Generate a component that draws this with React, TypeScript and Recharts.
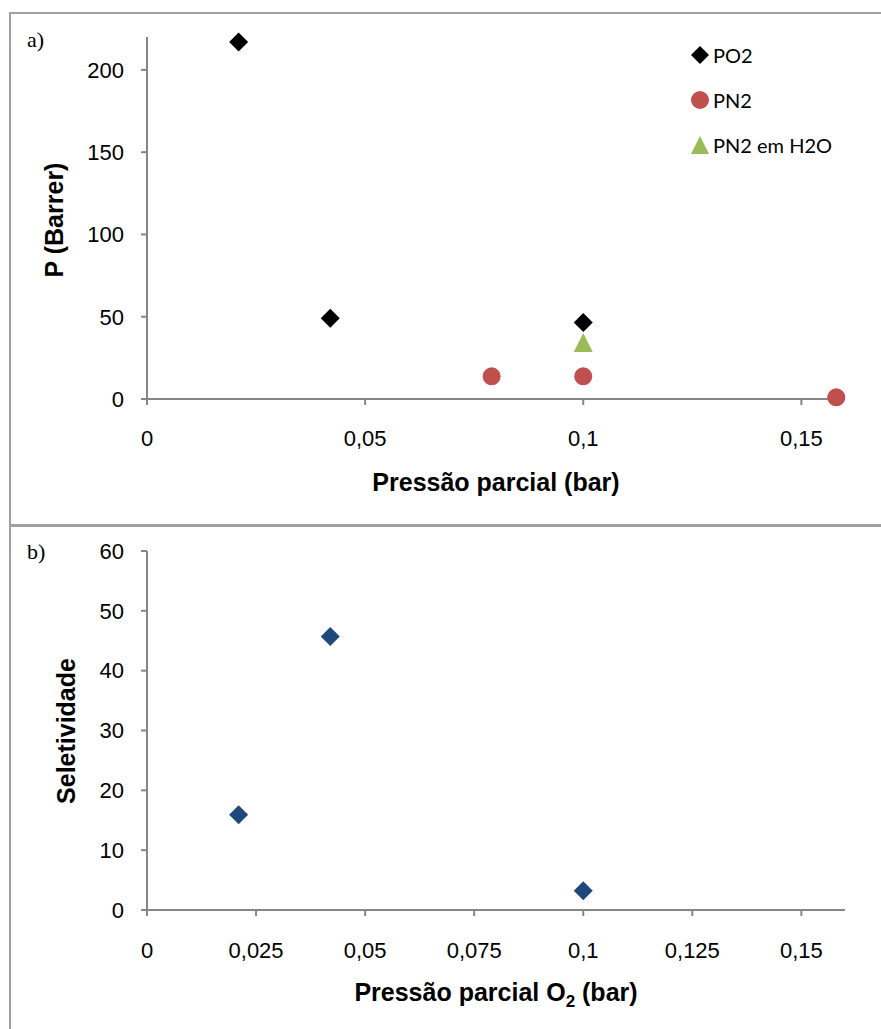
import React from 'react';
import { ScatterChart, Scatter, XAxis, YAxis, Legend, Label } from 'recharts';

// a) permeability vs partial pressure
const po2Data = [
  { x: 0.021, y: 217 },
  { x: 0.042, y: 49 },
  { x: 0.1, y: 46.5 },
];
const pn2Data = [
  { x: 0.079, y: 13.8 },
  { x: 0.1, y: 13.8 },
  { x: 0.158, y: 1 },
];
const pn2H2oData = [{ x: 0.1, y: 34 }];

const topXTicks = [0, 0.05, 0.1, 0.15];
const topYTicks = [0, 50, 100, 150, 200];

// b) selectivity vs O2 partial pressure
const selectivityData = [
  { x: 0.021, y: 15.9 },
  { x: 0.042, y: 45.7 },
  { x: 0.1, y: 3.2 },
];
const bottomXTicks = [0, 0.025, 0.05, 0.075, 0.1, 0.125, 0.15];
const bottomYTicks = [0, 10, 20, 30, 40, 50, 60];

const AXIS = '#868686';
const SANS = 'Liberation Sans, Arial, sans-serif';
const tickStyle = { fontFamily: SANS, fontSize: 22, fill: '#000' };
const titleStyle = { fontFamily: SANS, fontSize: 25, fontWeight: 'bold', fill: '#000' };
const fmt = (v: number) => String(v).replace('.', ',');

const diamond = (color: string) => (props: any) => {
  const { cx, cy } = props;
  const r = 9.5;
  return <polygon points={`${cx},${cy - r} ${cx + r},${cy} ${cx},${cy + r} ${cx - r},${cy}`} fill={color} />;
};
const circle = (color: string) => (props: any) => <circle cx={props.cx} cy={props.cy} r={9} fill={color} />;
const triangle = (color: string) => (props: any) => {
  const { cx, cy } = props;
  return <polygon points={`${cx},${cy - 10} ${cx + 9.5},${cy + 9} ${cx - 9.5},${cy + 9}`} fill={color} />;
};

const legendItems = [
  { name: 'PO2', color: '#000', kind: 'diamond' },
  { name: 'PN2', color: '#C0504D', kind: 'circle' },
  { name: 'PN2 em H2O', color: '#9BBB59', kind: 'triangle' },
];

const LegendIcon = ({ kind, color }: { kind: string; color: string }) => (
  <svg width={20} height={20} style={{ display: 'block' }}>
    {kind === 'diamond' && <polygon points="10,1 19,10 10,19 1,10" fill={color} />}
    {kind === 'circle' && <circle cx={10} cy={10} r={9} fill={color} />}
    {kind === 'triangle' && <polygon points="10,1 19,19 1,19" fill={color} />}
  </svg>
);

const TopLegend = () => (
  <div style={{ fontFamily: 'Lato, "Open Sans", sans-serif', fontSize: 20, color: '#000' }}>
    {legendItems.map((it) => (
      <div key={it.name} style={{ display: 'flex', alignItems: 'center', height: 45 }}>
        <LegendIcon kind={it.kind} color={it.color} />
        <span style={{ marginLeft: 3, whiteSpace: 'nowrap' }}>{it.name}</span>
      </div>
    ))}
  </div>
);

const yTitle = (text: string, x: number, y: number) => () => (
  <text x={x} y={y} transform={`rotate(-90, ${x}, ${y})`} textAnchor="middle" style={titleStyle}>
    {text}
  </text>
);

const panelText: React.CSSProperties = {
  position: 'absolute', left: 27, fontFamily: '"Liberation Serif", "Times New Roman", serif',
  fontSize: 22, lineHeight: '22px', color: '#000',
};

export default function App() {
  return (
    <div style={{ position: 'absolute', left: 0, top: 0, width: 881, height: 1029, overflow: 'hidden', background: '#fff' }}>
      <div style={{ position: 'absolute', left: 9, top: 12, width: 900, height: 511, border: '2px solid #A0A0A0' }} />
      <div style={{ position: 'absolute', left: 9, top: 524, width: 900, height: 600, border: '2px solid #A0A0A0' }} />
      <div style={{ ...panelText, top: 29 }}>a)</div>
      <div style={{ ...panelText, top: 541 }}>b)</div>

      <div style={{ position: 'absolute', left: 0, top: 0 }}>
        <ScatterChart width={881} height={520} margin={{ top: 37, right: 36, bottom: 61, left: 87 }}>
          <XAxis type="number" dataKey="x" domain={[0, 0.16]} ticks={topXTicks} tickFormatter={fmt}
            axisLine={{ stroke: AXIS, strokeWidth: 2 }} tickLine={{ stroke: AXIS, strokeWidth: 2 }}
            tickSize={6} tickMargin={25} tick={tickStyle} height={60}>
            <Label content={() => (
              <text x={496} y={491} textAnchor="middle" style={titleStyle}>
                Pressão parcial (bar)
              </text>
            )} />
          </XAxis>
          <YAxis type="number" dataKey="y" domain={[0, 220]} ticks={topYTicks} width={60}
            axisLine={{ stroke: AXIS, strokeWidth: 2 }} tickLine={{ stroke: AXIS, strokeWidth: 2 }}
            tickSize={6} tickMargin={17} tick={tickStyle}>
            <Label content={yTitle('P (Barrer)', 63, 220)} />
          </YAxis>
          <Legend layout="vertical" align="center" verticalAlign="middle" content={() => <TopLegend />}
            wrapperStyle={{ left: 690, top: 32, width: 'auto', height: 'auto' }} />
          <Scatter name="PO2" data={po2Data} shape={diamond('#000')} isAnimationActive={false} />
          <Scatter name="PN2" data={pn2Data} shape={circle('#C0504D')} isAnimationActive={false} />
          <Scatter name="PN2 em H2O" data={pn2H2oData} shape={triangle('#9BBB59')} isAnimationActive={false} />
        </ScatterChart>
      </div>

      <div style={{ position: 'absolute', left: 0, top: 525 }}>
        <ScatterChart width={881} height={504} margin={{ top: 26, right: 36, bottom: 59, left: 87 }}>
          <XAxis type="number" dataKey="x" domain={[0, 0.16]} ticks={bottomXTicks} tickFormatter={fmt}
            axisLine={{ stroke: AXIS, strokeWidth: 2 }} tickLine={{ stroke: AXIS, strokeWidth: 2 }}
            tickSize={6} tickMargin={26} tick={tickStyle} height={60}>
            <Label content={() => (
              <text x={496} y={476} textAnchor="middle" style={titleStyle}>
                Pressão parcial O<tspan fontSize={17} dy={6}>2</tspan><tspan dy={-6}> (bar)</tspan>
              </text>
            )} />
          </XAxis>
          <YAxis type="number" dataKey="y" domain={[0, 60]} ticks={bottomYTicks} width={60}
            axisLine={{ stroke: AXIS, strokeWidth: 2 }} tickLine={{ stroke: AXIS, strokeWidth: 2 }}
            tickSize={6} tickMargin={17} tick={tickStyle}>
            <Label content={yTitle('Seletividade', 75, 206)} />
          </YAxis>
          <Scatter name="Seletividade" data={selectivityData} shape={diamond('#1F497D')} isAnimationActive={false} />
        </ScatterChart>
      </div>
    </div>
  );
}
